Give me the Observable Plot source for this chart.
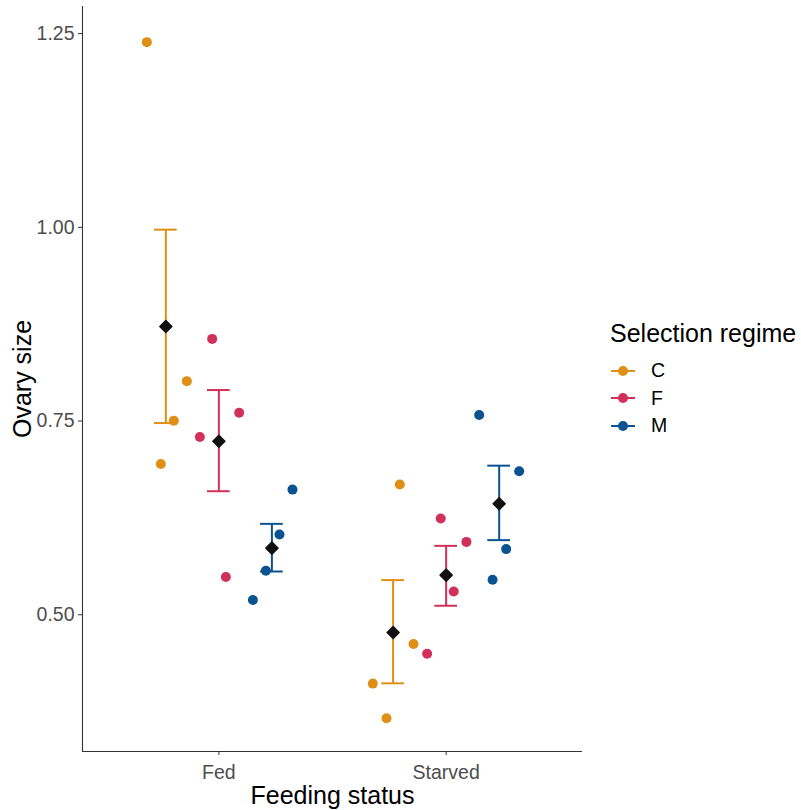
<!DOCTYPE html>
<html>
<head>
<meta charset="utf-8">
<script src="https://cdn.jsdelivr.net/npm/d3@7"></script>
<script src="https://cdn.jsdelivr.net/npm/@observablehq/plot@0.6"></script>
<style>
  body { margin: 0; background: #fff; font-family: "Liberation Sans", Arial, sans-serif; }
  #wrap { position: relative; width: 801px; height: 810px; }
  #legend { position: absolute; left: 610px; top: 318px; color: #000; }
  #legend .title { font-size: 25px; line-height: 30px; margin-bottom: 9px; white-space: nowrap; }
  #legend .row { display: flex; align-items: center; height: 27.5px; }
  #legend .row span { font-size: 19.5px; margin-left: 16px; }
</style>
</head>
<body>
<div id="wrap"><div id="legend"></div></div>
<script>
// ---- data ----
const feeding = ["Fed", "Starved"];
const regimes = ["C", "F", "M"];
const regimeColors = ["#DF8F15", "#D1305A", "#0A5391"];
const yTicks = [0.5, 0.75, 1.0, 1.25];

// individual replicate points
const pointStatus = [
  "Fed","Fed","Fed","Fed", "Fed","Fed","Fed","Fed", "Fed","Fed","Fed","Fed",
  "Starved","Starved","Starved","Starved", "Starved","Starved","Starved","Starved", "Starved","Starved","Starved","Starved"
];
const pointRegime = [
  "C","C","C","C", "F","F","F","F", "M","M","M","M",
  "C","C","C","C", "F","F","F","F", "M","M","M","M"
];
const pointValue = [
  1.239, 0.8015, 0.7505, 0.6946,
  0.856, 0.7607, 0.7294, 0.5486,
  0.6615, 0.6035, 0.5567, 0.519,
  0.668, 0.4622, 0.4111, 0.3664,
  0.6241, 0.594, 0.530, 0.4497,
  0.7577, 0.6852, 0.5847, 0.5451
];
const pointJitter = [
  -0.0836, 0.0924, 0.0352, -0.022,
  -0.0295, 0.0893, -0.0836, 0.0308,
  0.0906, 0.0334, -0.0264, -0.0836,
  0.0295, 0.0897, -0.0893, -0.029,
  -0.0238, 0.0893, 0.0334, -0.0836,
  -0.088, 0.088, 0.0308, -0.029
];

// group means with error bars
const meanStatus = ["Fed", "Fed", "Fed", "Starved", "Starved", "Starved"];
const meanRegime = ["C", "F", "M", "C", "F", "M"];
const meanValue = [0.872, 0.7238, 0.586, 0.4771, 0.5511, 0.6433];
const errLow = [0.7474, 0.6594, 0.5558, 0.4115, 0.5116, 0.5963];
const errHigh = [0.997, 0.790, 0.6173, 0.5447, 0.5889, 0.6924];

// ---- layout ----
const dodge = 0.7 / 3;      // ggplot position_dodge(0.7)
const capHalf = 0.05;       // errorbar width 0.1
const xPos = (status, regime) => feeding.indexOf(status) + 1 + (regimes.indexOf(regime) - 1) * dodge;

const points = pointValue.map((v, i) => ({
  status: pointStatus[i], regime: pointRegime[i], value: v, jitter: pointJitter[i]
}));
const means = meanValue.map((v, i) => ({
  status: meanStatus[i], regime: meanRegime[i], mean: v, lo: errLow[i], hi: errHigh[i]
}));

const diamond = {
  draw(context, size) {
    const h = Math.sqrt(size / Math.PI);
    context.moveTo(0, -h); context.lineTo(h, 0); context.lineTo(0, h); context.lineTo(-h, 0); context.closePath();
  }
};

const axisColor = "#333333";
const tickText = "#4D4D4D";

const chart = Plot.plot({
  width: 801,
  height: 810,
  marginLeft: 82,
  marginRight: 219,
  marginTop: 6,
  marginBottom: 59,
  style: { fontFamily: "'Liberation Sans', Arial, sans-serif", background: "#fff", overflow: "visible" },
  x: { type: "linear", domain: [0.4, 2.6] },
  y: { domain: [0.3235, 1.285] },
  color: { domain: regimes, range: regimeColors },
  marks: [
    Plot.ruleX([0.4], { stroke: axisColor, strokeWidth: 1.1 }),
    Plot.ruleY([0.3235], { stroke: axisColor, strokeWidth: 1.1 }),
    Plot.axisY({
      ticks: yTicks, tickFormat: d3.format(".2f"), tickSize: 4, tickPadding: 4,
      stroke: axisColor, fill: tickText, fontSize: 19.5, label: null
    }),
    Plot.axisX({
      ticks: [1, 2], tickFormat: d => feeding[d - 1], tickSize: 4, tickPadding: 10,
      stroke: axisColor, fill: tickText, fontSize: 19.5, label: null
    }),
    Plot.text(["Feeding status"], {
      frameAnchor: "bottom", textAnchor: "middle", lineAnchor: "middle", dy: 44, fontSize: 25, fill: "#000"
    }),
    Plot.text(["Ovary size"], {
      frameAnchor: "left", textAnchor: "middle", lineAnchor: "middle", dx: -60, rotate: -90, fontSize: 25, fill: "#000"
    }),
    // jittered replicate points
    Plot.dot(points, {
      x: d => xPos(d.status, d.regime) + d.jitter, y: "value",
      fill: "regime", r: 5, stroke: "none"
    }),
    // error bars
    Plot.ruleX(means, {
      x: d => xPos(d.status, d.regime), y1: "lo", y2: "hi",
      stroke: "regime", strokeWidth: 2
    }),
    Plot.ruleY(means, {
      y: "hi", x1: d => xPos(d.status, d.regime) - capHalf, x2: d => xPos(d.status, d.regime) + capHalf,
      stroke: "regime", strokeWidth: 2
    }),
    Plot.ruleY(means, {
      y: "lo", x1: d => xPos(d.status, d.regime) - capHalf, x2: d => xPos(d.status, d.regime) + capHalf,
      stroke: "regime", strokeWidth: 2
    }),
    // means
    Plot.dot(means, {
      x: d => xPos(d.status, d.regime), y: "mean",
      symbol: diamond, r: 6, fill: "#111111", stroke: "#111111", strokeWidth: 1.5, strokeLinejoin: "round"
    })
  ]
});

const wrap = document.getElementById("wrap");
wrap.insertBefore(chart, wrap.firstChild);

// legend
const legend = document.getElementById("legend");
legend.innerHTML = `<div class="title">Selection regime</div>` + regimes.map((r, i) => `
  <div class="row">
    <svg width="24" height="14" style="margin-left:1px">
      <line x1="0" y1="7" x2="24" y2="7" stroke="${regimeColors[i]}" stroke-width="2"/>
      <circle cx="12" cy="7" r="5" fill="${regimeColors[i]}"/>
    </svg>
    <span>${r}</span>
  </div>`).join("");
</script>
</body>
</html>
